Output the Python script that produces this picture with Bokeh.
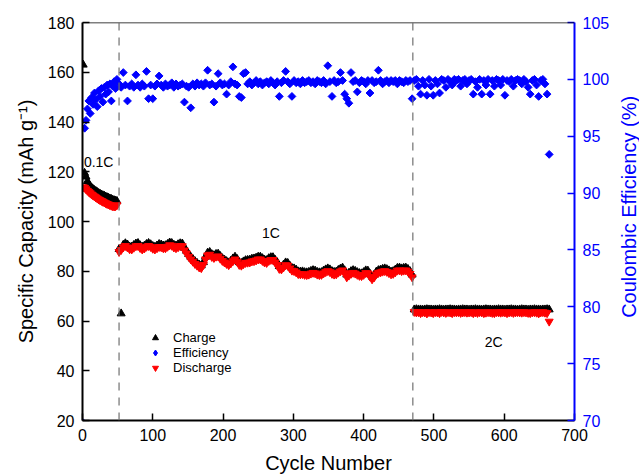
import math
from bokeh.plotting import figure
from bokeh.layouts import row
from bokeh.models import (LinearAxis, Range1d, Span, Legend, LegendItem,
                          FixedTicker, ColumnDataSource)
from bokeh.embed import file_html
from bokeh.resources import INLINE
from bokeh.core.properties import value

# ---------------- data ----------------
# cycle numbers sampled per rate segment
cycles_01 = list(range(1, 50, 2))      # 0.1C
cycles_1 = list(range(52, 470, 3))     # 1C
cycles_2 = list(range(472, 665, 3))    # 2C

charge_01 = [163.0, 119.5, 118.0, 116.2, 115.0, 114.2, 113.6, 113.0, 112.6, 112.2,
             111.8, 111.4, 111.1, 110.8, 110.5, 110.3, 110.0, 109.7, 109.5, 109.2,
             109.0, 108.7, 108.5, 108.3, 108.2]
discharge_01 = [113.8, 113.6, 113.0, 112.4, 111.9, 111.4, 110.9, 110.5, 110.1, 109.7,
                109.3, 108.9, 108.6, 108.3, 108.0, 107.7, 107.4, 107.1, 106.9, 106.6,
                106.4, 106.2, 106.1, 106.2, 106.6]
eff_01 = [69.8, 95.7, 96.4, 97.4, 98.1, 97.0, 98.4, 97.8, 98.8, 98.2,
          97.6, 99.0, 98.5, 99.2, 98.0, 99.3, 98.7, 99.5, 98.9, 99.6,
          98.1, 99.4, 99.8, 99.2, 100.0]

discharge_1 = [87.8, 88.6, 89.6, 90.2, 89.6, 88.9, 88.8, 89.5, 90.1, 90.2,
               89.4, 88.8, 89.2, 89.9, 90.2, 89.8, 89.1, 88.8, 89.3, 89.8,
               89.7, 89.3, 89.3, 89.9, 90.5, 90.3, 89.6, 89.3, 89.7, 90.2,
               90.1, 88.4, 87.2, 85.9, 84.8, 83.9, 83.0, 82.3, 81.6, 81.3,
               82.6, 84.8, 86.4, 86.7, 85.8, 85.4, 85.9, 86.0, 85.1, 84.2,
               83.6, 83.0, 82.5, 83.2, 84.1, 84.8, 83.9, 82.6, 82.3, 82.9,
               83.4, 83.5, 83.6, 84.0, 84.1, 84.4, 84.8, 84.8, 84.2, 83.6,
               83.4, 84.2, 84.6, 84.6, 83.6, 82.6, 81.0, 80.8, 81.6, 82.5,
               82.3, 81.2, 80.3, 80.1, 79.6, 78.9, 78.8, 78.9, 78.6, 78.5,
               78.7, 79.1, 79.4, 79.2, 78.7, 78.5, 78.6, 79.2, 79.7, 80.1,
               79.7, 79.0, 78.7, 78.8, 79.5, 80.0, 80.4, 79.3, 77.6, 78.3,
               79.0, 79.4, 79.1, 78.6, 78.2, 78.1, 78.6, 79.3, 79.2, 77.9,
               76.8, 77.6, 78.8, 79.4, 79.6, 79.9, 80.1, 79.8, 79.3, 78.8,
               79.0, 79.6, 80.3, 80.4, 80.1, 80.3, 80.4, 79.9, 79.0, 77.6]
charge_1 = [88.9, 63.0, 90.6, 91.2, 90.7, 89.9, 89.8, 90.5, 91.1, 91.3,
            90.4, 89.8, 90.2, 90.9, 91.3, 90.8, 90.1, 89.8, 90.3, 90.9,
            90.7, 90.3, 90.4, 90.9, 91.5, 91.3, 90.6, 90.3, 90.8, 91.2,
            91.1, 89.4, 88.2, 86.9, 85.8, 84.9, 84.0, 83.3, 82.6, 82.3,
            83.6, 85.8, 87.4, 87.7, 86.8, 86.4, 86.9, 87.0, 86.1, 85.2,
            84.6, 84.0, 83.5, 84.2, 85.1, 85.8, 84.9, 83.6, 83.3, 83.9,
            84.4, 84.5, 84.6, 85.0, 85.1, 85.4, 85.8, 85.8, 85.2, 84.6,
            84.4, 85.2, 85.6, 85.6, 84.6, 83.6, 82.0, 81.8, 82.6, 83.5,
            83.3, 82.2, 81.3, 81.1, 80.6, 79.9, 79.8, 79.9, 79.6, 79.5,
            79.7, 80.1, 80.4, 80.2, 79.7, 79.5, 79.6, 80.2, 80.7, 81.1,
            80.7, 80.0, 79.7, 79.8, 80.5, 81.0, 81.4, 80.3, 78.6, 79.3,
            80.0, 80.4, 80.1, 79.6, 79.2, 79.1, 79.6, 80.3, 80.2, 78.9,
            77.8, 78.6, 79.8, 80.4, 80.6, 80.9, 81.1, 80.8, 80.3, 79.8,
            80.0, 80.6, 81.3, 81.4, 81.1, 81.3, 81.4, 80.9, 80.0, 78.6]
eff_1 = [99.6, 99.3, 100.6, 99.5, 98.1, 99.4, 99.6, 99.3, 100.4, 99.5,
         99.3, 99.6, 99.4, 100.7, 98.3, 99.5, 98.3, 99.4, 99.6, 100.3,
         99.5, 99.3, 99.6, 99.4, 99.5, 99.7, 99.3, 99.6, 99.4, 99.5,
         99.6, 98.0, 99.4, 99.3, 97.5, 99.6, 99.4, 99.7, 99.5, 99.6,
         99.4, 99.7, 100.8, 99.5, 99.6, 98.0, 99.4, 100.5, 99.7, 99.5,
         99.6, 98.7, 99.5, 99.8, 101.1, 99.6, 99.5, 98.5, 98.4, 100.5,
         100.6, 99.6, 99.8, 99.5, 99.7, 99.9, 99.6, 99.8, 99.5, 99.7,
         99.8, 99.6, 99.9, 99.7, 99.5, 99.8, 98.5, 99.7, 99.9, 100.7,
         99.8, 99.6, 98.5, 99.9, 99.7, 99.8, 99.6, 99.9, 99.7, 99.8,
         99.9, 99.7, 99.8, 99.6, 99.9, 99.8, 99.7, 99.9, 99.6, 101.2,
         99.8, 98.5, 99.9, 99.7, 99.8, 100.6, 99.9, 98.7, 98.3, 97.9,
         100.6, 99.8, 99.9, 98.9, 99.7, 99.9, 99.8, 99.6, 99.9, 98.8,
         99.9, 99.7, 99.8, 100.8, 99.9, 99.6, 99.8, 99.9, 99.7, 99.9,
         99.8, 99.9, 99.6, 99.9, 99.8, 99.7, 99.9, 99.8, 99.9, 98.3]

charge_2 = [64.6, 64.7, 64.6, 64.6, 64.5, 64.6, 64.7, 64.6, 64.6, 64.5,
            64.6, 64.6, 64.7, 64.6, 64.5, 64.6, 64.6, 64.7, 64.6, 64.6,
            64.5, 64.6, 64.6, 64.7, 64.6, 64.6, 64.5, 64.6, 64.6, 64.7,
            64.6, 64.6, 64.5, 64.6, 64.7, 64.6, 64.6, 64.5, 64.6, 64.6,
            64.7, 64.6, 64.6, 64.5, 64.6, 64.6, 64.7, 64.6, 64.6, 64.5,
            64.6, 64.7, 64.6, 64.6, 64.5, 64.6, 64.6, 64.7, 64.6, 64.6,
            64.5, 64.6, 64.6, 64.7, 64.6]
discharge_2 = [63.7, 63.5, 63.6, 63.2, 63.6, 63.5, 63.1, 63.6, 63.5, 63.2,
               63.6, 63.5, 63.2, 63.7, 63.5, 63.3, 63.6, 63.5, 63.2, 63.6,
               63.5, 63.6, 63.3, 63.5, 63.6, 63.4, 63.5, 63.6, 63.2, 63.5,
               63.3, 63.6, 63.5, 63.2, 63.4, 63.6, 63.5, 63.3, 63.2, 63.6,
               63.5, 63.4, 63.6, 63.5, 63.2, 63.5, 63.6, 63.3, 63.5, 63.6,
               63.5, 63.4, 63.6, 63.5, 63.3, 63.2, 63.5, 63.6, 63.4, 63.1,
               63.5, 63.6, 63.4, 63.2, 59.8]
eff_2 = [99.9, 100.0, 99.4, 98.7, 99.9, 99.5, 98.6, 100.0, 99.4, 98.6,
         99.9, 99.6, 98.8, 100.0, 99.9, 99.3, 100.0, 99.8, 99.5, 100.0,
         99.9, 100.0, 99.4, 99.9, 100.0, 99.6, 99.9, 100.0, 98.7, 99.8,
         99.3, 100.0, 98.7, 99.9, 99.5, 100.0, 98.7, 99.9, 99.4, 100.0,
         99.9, 99.5, 100.0, 98.6, 99.9, 99.8, 100.0, 99.4, 99.9, 100.0,
         99.9, 99.6, 100.0, 99.8, 99.3, 98.7, 99.9, 100.0, 99.5, 98.5,
         99.9, 100.0, 99.6, 98.7, 93.4]

rate_change_cycles = [52, 470]
rate_labels = ["0.1C", "1C", "2C"]

x_ticks = [0, 100, 200, 300, 400, 500, 600, 700]
cap_ticks = [20, 40, 60, 80, 100, 120, 140, 160, 180]
eff_ticks = [70, 75, 80, 85, 90, 95, 100, 105]

cycles = cycles_01 + cycles_1 + cycles_2
charge = charge_01 + charge_1 + charge_2
discharge = discharge_01 + discharge_1 + discharge_2
eff = eff_01 + eff_1 + eff_2
assert len(cycles) == len(charge) == len(discharge) == len(eff), (
    len(cycles), len(charge), len(discharge), len(eff))

# ---------------- layout / style ----------------
FONT = "Liberation Sans"
BLUE = "#0000FF"
label_x = [23, 268, 585]
label_y = [124, 95.5, 51.5]
TOTAL_W, TOTAL_H = 639, 476
MAIN_W = 612
TOP, BOTTOM_FRAME = 22, 419   # frame top / bottom in page pixels

src = ColumnDataSource(dict(cycle=cycles, charge=charge, discharge=discharge, eff=eff))

p = figure(width=MAIN_W, height=TOTAL_H, output_backend="svg", toolbar_location=None,
           x_range=Range1d(x_ticks[0], x_ticks[-1]),
           y_range=Range1d(cap_ticks[0], cap_ticks[-1]),
           min_border_left=82, min_border_right=38, min_border_top=TOP,
           min_border_bottom=50)
p.extra_y_ranges = {"eff": Range1d(eff_ticks[0], eff_ticks[-1])}
p.grid.visible = False
p.outline_line_color = None
p.background_fill_color = "white"
p.border_fill_color = "white"

xa = p.xaxis[0]
ya = p.yaxis[0]
xa.ticker = FixedTicker(ticks=x_ticks)
ya.ticker = FixedTicker(ticks=cap_ticks)
xa.axis_label = "Cycle Number"
ya.axis_label = "Specific Capacity (mAh g\u207b\u00b9)"

ra = LinearAxis(y_range_name="eff", ticker=FixedTicker(ticks=eff_ticks))
p.add_layout(ra, "right")

for ax in (xa, ya, ra):
    ax.major_tick_in = 7
    ax.major_tick_out = 0
    ax.minor_tick_line_color = None
    ax.axis_line_width = 2
    ax.axis_line_color = "black"
    ax.major_tick_line_width = 1.5
    ax.major_tick_line_color = "black"
    ax.major_label_text_font = FONT
    ax.major_label_text_font_size = "16px"
    ax.major_label_text_color = "black"
    ax.major_label_standoff = 8
    ax.axis_label_text_font = FONT
    ax.axis_label_text_font_size = "20px"
    ax.axis_label_text_font_style = "normal"
    ax.axis_label_text_color = "black"
    ax.axis_label_standoff = 8

ra.axis_line_color = BLUE
ra.major_tick_line_color = BLUE
ra.major_label_text_color = BLUE

# top frame line
p.add_layout(Span(location=cap_ticks[-1], dimension="width", line_color="black",
                  line_width=1.5))
# rate change markers
for c in rate_change_cycles:
    p.add_layout(Span(location=c, dimension="height", line_color="#707070",
                      line_width=1.2, line_dash="8 7"))

r_eff = p.scatter(x="cycle", y="eff", source=src, marker="square", angle=math.pi / 4,
                  size=5.5, color=BLUE, y_range_name="eff")
r_ch = p.scatter(x="cycle", y="charge", source=src, marker="triangle", size=8,
                 color="black")
r_dis = p.scatter(x="cycle", y="discharge", source=src, marker="inverted_triangle",
                  size=8, color="red")

# legend-only glyph for the efficiency diamond (kept outside the visible range)
r_eff_leg = p.scatter(x=[-1000], y=[0], marker="diamond", size=9, color=BLUE,
                      y_range_name="eff")

p.text(x=label_x, y=label_y, text=rate_labels, text_font=value(FONT),
       text_font_size="14px", text_align="center", text_baseline="middle",
       text_color="black")

legend = Legend(items=[LegendItem(label="Charge", renderers=[r_ch]),
                       LegendItem(label="Efficiency", renderers=[r_eff_leg]),
                       LegendItem(label="Discharge", renderers=[r_dis])],
                location=(65, 45), border_line_color=None, background_fill_alpha=0,
                padding=0, spacing=0, glyph_width=16, glyph_height=15,
                label_height=15, label_standoff=10, label_text_font=FONT,
                label_text_font_size="13px", label_text_color="black", margin=0)
p.add_layout(legend)

# narrow strip holding the right-hand axis title (reads bottom-to-top)
t = figure(width=TOTAL_W - MAIN_W, height=TOTAL_H, output_backend="svg",
           toolbar_location=None, x_range=Range1d(0, 1), y_range=Range1d(0, TOTAL_H),
           min_border=0)
t.axis.visible = False
t.grid.visible = False
t.outline_line_color = None
t.background_fill_color = "white"
t.border_fill_color = "white"
t.text(x=[0.6], y=[TOTAL_H - (TOP + BOTTOM_FRAME) / 2],
       text=["Coulombic Efficiency (%)"], angle=math.pi / 2,
       text_font=value(FONT), text_font_size="20px", text_align="center",
       text_baseline="middle", text_color=BLUE)

layout = row(p, t, spacing=0)
open("out.html", "w").write(file_html(layout, INLINE))
